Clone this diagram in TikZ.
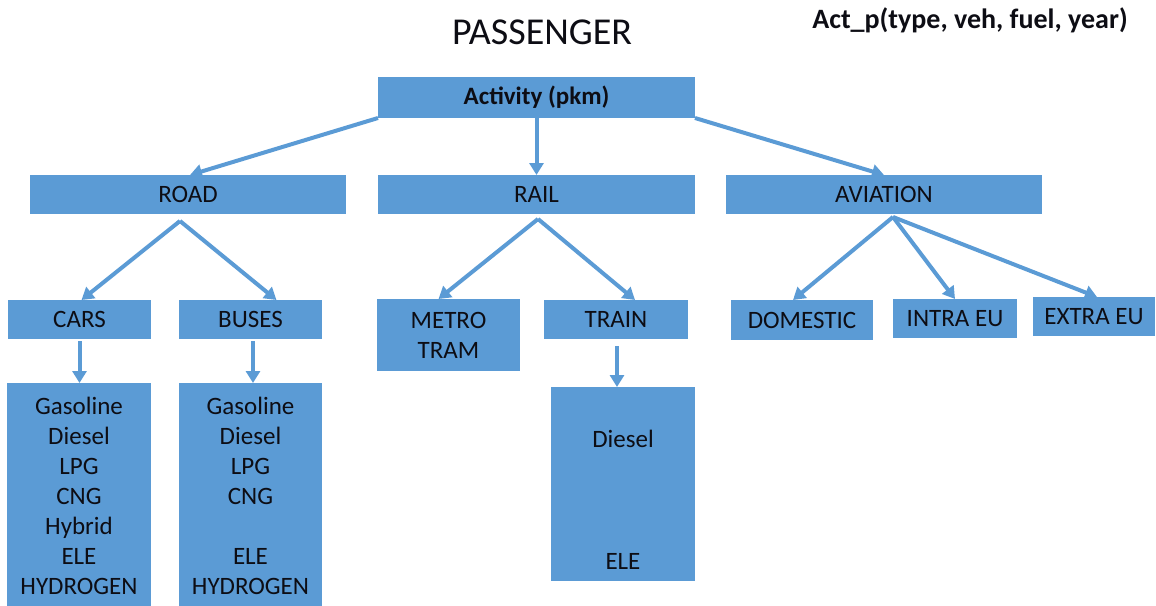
\documentclass[tikz,border=0pt]{standalone}
\usepackage{fontspec}
\setmainfont{Carlito}
\usetikzlibrary{arrows.meta}
\definecolor{boxblue}{HTML}{5B9BD5}
\definecolor{ink}{HTML}{0D0D14}
\begin{document}
\begin{tikzpicture}[x=1pt,y=-1pt,
  box/.style={fill=boxblue,draw=none,inner sep=0pt,outer sep=0pt,
    text=ink,align=center,font=\fontsize{25}{30}\selectfont},
  link/.style={draw=boxblue,line width=4pt,
    -{Triangle[length=12pt,width=14pt]}},
  plain/.style={text=ink,inner sep=0pt}]
\useasboundingbox (0,0) rectangle (1156,605);

% headings
\node[plain,font=\fontsize{38}{40}\selectfont] (title) at (542,32) {PASSENGER};
\node[plain,font=\bfseries\fontsize{28}{30}\selectfont] (formula) at (970,20) {Act\_p(type, veh, fuel, year)};

% top level
\node[box,minimum width=317pt,minimum height=41pt,font=\bfseries\fontsize{25}{28}\selectfont] (act) at (536.5,97.5) {Activity (pkm)};

% modes
\node[box,minimum width=316pt,minimum height=39pt] (road) at (188,194.5) {ROAD};
\node[box,minimum width=317pt,minimum height=39pt] (rail) at (536.5,194.5) {RAIL};
\node[box,minimum width=316pt,minimum height=39pt] (aviation) at (884,194.5) {AVIATION};

% vehicle types
\node[box,minimum width=143pt,minimum height=39pt] (cars) at (79.5,319.5) {CARS};
\node[box,minimum width=143pt,minimum height=39pt] (buses) at (250.5,319.5) {BUSES};
\node[box,minimum width=143pt,minimum height=72pt] (metro) at (448.5,335) {METRO\\TRAM};
\node[box,minimum width=144pt,minimum height=39pt] (train) at (616,319.5) {TRAIN};
\node[box,minimum width=142pt,minimum height=40pt] (domestic) at (802,320) {DOMESTIC};
\node[box,minimum width=124pt,minimum height=39pt] (intra) at (955,318.5) {INTRA EU};
\node[box,minimum width=122pt,minimum height=39pt] (extra) at (1094,316.5) {EXTRA EU};

% fuels
\node[box,minimum width=144pt,minimum height=225pt] (carsfuel) at (79,495.5)
  {Gasoline\\Diesel\\LPG\\CNG\\Hybrid\\ELE\\HYDROGEN};
\node[box,minimum width=143pt,minimum height=225pt] (busesfuel) at (250.5,495.5)
  {Gasoline\\Diesel\\LPG\\CNG\\\mbox{}\\ELE\\HYDROGEN};
\node[box,minimum width=144pt,minimum height=194pt] (trainfuel) at (623,484) {};
\node[plain,font=\fontsize{25}{30}\selectfont] (tdiesel) at (623,439) {Diesel};
\node[plain,font=\fontsize{25}{30}\selectfont] (tele) at (623,561) {ELE};

% fork points under the mode boxes
\coordinate (roadfork) at ([xshift=-8pt,yshift=-7pt]road.south);
\coordinate (railfork) at ([xshift=1.5pt,yshift=-5pt]rail.south);
\coordinate (avfork) at ([xshift=9pt,yshift=-3pt]aviation.south);

% connectors
\draw[link] (act.south west) -- ([xshift=2pt]road.north);
\draw[link] (act.south) -- (rail.north);
\draw[link] (act.south east) -- (aviation.north);

\draw[link] (roadfork) -- ([xshift=2pt]cars.north);
\draw[link] (roadfork) -- ([xshift=26pt]buses.north);
\draw[link] ([yshift=-2pt]cars.south) -- (cars.south |- carsfuel.north);
\draw[link] ([xshift=2.5pt,yshift=-2pt]buses.south) -- ([xshift=2.5pt]buses.south |- busesfuel.north);

\draw[link] (railfork) -- ([xshift=-10pt]metro.north);
\draw[link] (railfork) -- ([xshift=19pt]train.north);
\draw[link] ([xshift=1pt,yshift=-7pt]train.south) -- ([xshift=1pt]train.south |- trainfuel.north);

\draw[link] (avfork) -- ([xshift=-9pt]domestic.north);
\draw[link] (avfork) -- (intra.north);
\draw[link] (avfork) -- ([xshift=3pt]extra.north);
\end{tikzpicture}
\end{document}
